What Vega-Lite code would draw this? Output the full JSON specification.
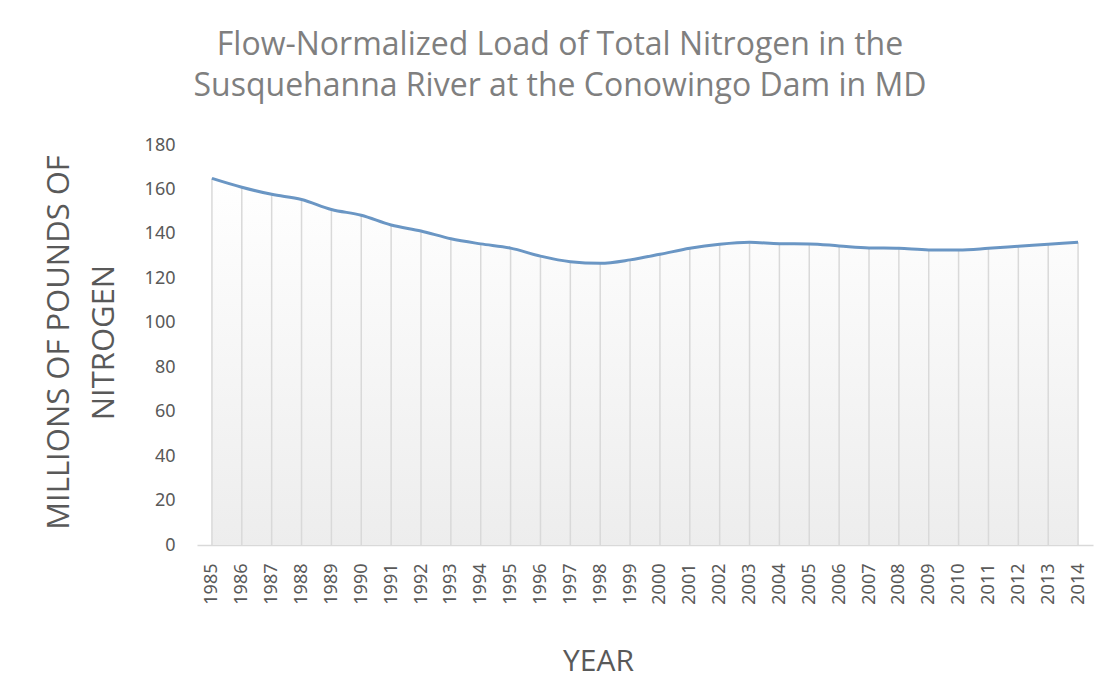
{
  "$schema": "https://vega.github.io/schema/vega-lite/v6.json",
  "width": 896,
  "height": 400,
  "autosize": {"type": "none"},
  "padding": {"left": 197, "top": 145, "right": 16, "bottom": 141},
  "background": "white",
  "config": {"view": {"stroke": null}},
  "title": {
    "text": ["Flow-Normalized Load of Total Nitrogen in the", "Susquehanna River at the Conowingo Dam in MD"],
    "fontSize": 32,
    "font": "Open Sans",
    "fontWeight": "normal",
    "color": "#7f7f7f",
    "lineHeight": 41,
    "anchor": "middle",
    "frame": "group",
    "dx": -85,
    "offset": 33
  },
  "data": {
    "values": [
      {"year": "1985", "value": 165},
      {"year": "1986", "value": 161},
      {"year": "1987", "value": 157.8},
      {"year": "1988", "value": 155.5},
      {"year": "1989", "value": 151},
      {"year": "1990", "value": 148.4},
      {"year": "1991", "value": 144},
      {"year": "1992", "value": 141.3},
      {"year": "1993", "value": 137.8},
      {"year": "1994", "value": 135.5},
      {"year": "1995", "value": 133.6},
      {"year": "1996", "value": 130},
      {"year": "1997", "value": 127.5},
      {"year": "1998", "value": 126.8},
      {"year": "1999", "value": 128.3},
      {"year": "2000", "value": 130.8},
      {"year": "2001", "value": 133.5},
      {"year": "2002", "value": 135.3},
      {"year": "2003", "value": 136.2},
      {"year": "2004", "value": 135.6},
      {"year": "2005", "value": 135.5},
      {"year": "2006", "value": 134.6},
      {"year": "2007", "value": 133.7},
      {"year": "2008", "value": 133.5},
      {"year": "2009", "value": 132.8},
      {"year": "2010", "value": 132.8},
      {"year": "2011", "value": 133.5},
      {"year": "2012", "value": 134.4},
      {"year": "2013", "value": 135.3},
      {"year": "2014", "value": 136.2}
    ]
  },
  "encoding": {
    "x": {
      "field": "year",
      "type": "ordinal",
      "scale": {"type": "point", "padding": 0.5},
      "axis": {
        "title": "YEAR",
        "labelAngle": 270,
        "ticks": false,
        "grid": false,
        "domainColor": "#d9d9d9",
        "domainWidth": 1.5,
        "labelFont": "Noto Sans",
        "labelFontSize": 18,
        "labelColor": "#595959",
        "labelPadding": 18,
        "titleFont": "Open Sans",
        "titleFontSize": 30,
        "titleFontWeight": "normal",
        "titleColor": "#595959",
        "titleX": 401,
        "titleY": 125,
        "titleBaseline": "alphabetic"
      }
    }
  },
  "layer": [
    {
      "mark": {
        "type": "area",
        "interpolate": "monotone",
        "color": {
          "gradient": "linear",
          "x1": 0, "y1": 0, "x2": 0, "y2": 1,
          "stops": [
            {"offset": 0, "color": "#ffffff"},
            {"offset": 1, "color": "#ededed"}
          ]
        }
      },
      "encoding": {
        "y": {
          "field": "value",
          "type": "quantitative",
          "scale": {"domain": [0, 180], "nice": false},
          "axis": {
            "title": ["MILLIONS OF POUNDS OF", "NITROGEN"],
            "values": [0, 20, 40, 60, 80, 100, 120, 140, 160, 180],
            "ticks": false,
            "domain": false,
            "grid": false,
            "labelFont": "Noto Sans",
            "labelFontSize": 18,
            "labelColor": "#595959",
            "labelPadding": 22,
            "titleFont": "Open Sans",
            "titleFontSize": 31,
            "titleFontWeight": "normal",
            "titleColor": "#595959",
            "titleX": -129,
            "titleY": 197,
            "titleBaseline": "alphabetic",
            "titleLineHeight": 45
          }
        }
      }
    },
    {
      "mark": {"type": "rule", "color": "#d9d9d9", "strokeWidth": 1.5},
      "encoding": {
        "y": {"field": "value", "type": "quantitative"},
        "y2": {"datum": 0}
      }
    },
    {
      "mark": {"type": "line", "interpolate": "monotone", "color": "#6a96c4", "strokeWidth": 3},
      "encoding": {
        "y": {"field": "value", "type": "quantitative"}
      }
    }
  ]
}
